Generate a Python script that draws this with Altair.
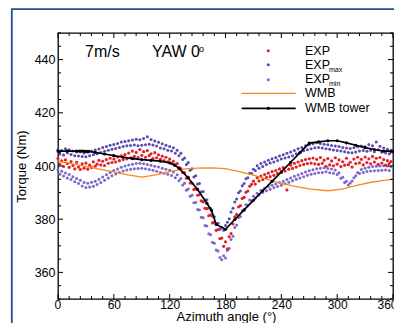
import altair as alt
import pandas as pd

FONT = "Liberation Sans"

# ---------------- data ----------------
angles = list(range(0, 360, 2))

exp = [402.8, 400.6, 401.9, 399.8, 402.3, 400.9, 399.5, 401.7, 400.2, 398.9,
       401.4, 399.6, 398.7, 400.8, 399.2, 401.1, 398.8, 400.3, 399.4, 401.6,
       399.9, 400.7, 402.1, 400.4, 401.8, 400.2, 402.4, 401.0, 402.9, 401.3,
       402.6, 401.5, 403.4, 402.0, 403.8, 402.4, 404.3, 402.7, 404.9, 403.1,
       405.6, 403.6, 405.1, 403.2, 406.2, 404.0, 405.4, 403.3, 405.8, 403.9,
       404.6, 402.8, 405.0, 403.1, 404.2, 402.5, 403.7, 402.0, 403.3, 401.6,
       402.6, 400.9, 401.8, 400.2, 400.9, 399.3, 399.0, 397.6, 397.5, 395.4,
       395.8, 393.6, 393.5, 391.2, 391.4, 389.0, 389.2, 386.9, 386.5, 384.1,
       384.0, 381.3, 381.6, 378.6, 378.9, 375.8, 376.1, 372.7, 372.9, 369.8,
       371.5, 368.9, 373.4, 374.6, 378.2, 380.9, 381.8, 384.6, 385.1, 387.8,
       388.2, 390.1, 390.6, 392.4, 393.1, 394.3, 393.2, 395.6, 394.4, 396.2,
       394.9, 396.8, 395.7, 397.3, 396.0, 397.9, 396.5, 398.3, 397.2, 398.9,
       397.6, 399.4, 398.1, 391.0, 398.8, 400.3, 399.1, 401.0, 399.6, 401.5,
       400.2, 402.0, 400.6, 402.4, 400.9, 402.7, 401.1, 403.0, 400.8, 402.5,
       400.6, 403.2, 401.0, 402.2, 399.9, 402.8, 400.4, 401.9, 400.1, 403.1,
       400.7, 402.3, 399.8, 401.6, 400.3, 402.9, 400.5, 401.4, 399.6, 402.6,
       400.9, 403.3, 401.2, 402.5, 400.4, 403.4, 401.3, 402.7, 400.8, 403.6,
       401.5, 402.9, 400.6, 403.2, 401.1, 402.4, 400.3, 402.0, 400.9, 401.7]

exp_max = [406.2, 404.5, 405.8, 404.1, 406.5, 405.0, 406.1, 404.3, 405.6, 403.9,
           405.3, 403.8, 405.4, 403.6, 404.9, 403.5, 405.2, 403.9, 405.6, 404.2,
           406.0, 404.6, 406.4, 405.1, 407.0, 405.5, 407.3, 405.9, 407.8, 406.3,
           408.1, 406.6, 408.5, 407.0, 409.0, 407.3, 409.2, 407.6, 409.5, 407.7,
           409.8, 407.9, 410.1, 407.6, 409.9, 407.8, 410.3, 408.0, 411.0, 408.2,
           410.0, 407.9, 409.4, 407.5, 408.9, 406.8, 408.4, 406.5, 407.8, 405.9,
           407.3, 405.6, 406.9, 404.8, 405.9, 403.9, 404.8, 402.4, 403.0, 400.6,
           401.3, 398.4, 399.0, 395.9, 396.3, 393.2, 393.4, 390.3, 390.4, 387.2,
           387.3, 384.2, 384.0, 381.1, 380.9, 378.3, 378.5, 376.2, 377.0, 375.8,
           377.6, 378.9, 380.2, 382.7, 384.1, 386.5, 387.6, 389.9, 390.6, 392.6,
           393.4, 395.2, 395.6, 397.3, 397.2, 398.8, 398.3, 400.1, 399.2, 400.9,
           399.8, 401.5, 400.6, 402.2, 401.1, 402.7, 401.5, 403.2, 402.1, 403.8,
           402.6, 404.2, 403.0, 404.8, 403.4, 405.3, 403.9, 405.8, 404.6, 406.5,
           405.2, 407.0, 405.7, 407.6, 406.1, 408.0, 406.5, 408.4, 406.9, 408.7,
           407.0, 408.5, 406.8, 408.2, 406.5, 408.0, 406.3, 407.7, 406.0, 407.5,
           405.8, 407.3, 405.6, 407.0, 405.4, 406.8, 405.1, 406.6, 405.0, 406.9,
           405.3, 407.2, 405.6, 407.5, 405.8, 407.3, 405.5, 408.1, 405.9, 407.6,
           405.4, 409.0, 406.1, 407.4, 405.2, 406.8, 404.9, 406.3, 404.6, 405.9]

exp_min = [398.6, 396.9, 398.0, 396.2, 397.4, 395.5, 396.8, 394.9, 396.0, 394.1,
           395.3, 393.4, 394.6, 392.5, 393.8, 391.9, 393.5, 392.1, 393.9, 392.4,
           394.3, 393.0, 395.0, 393.8, 395.9, 394.6, 396.7, 395.5, 397.6, 396.3,
           398.3, 397.0, 398.9, 397.6, 399.5, 398.1, 400.0, 398.5, 400.4, 398.8,
           400.7, 399.0, 400.9, 399.1, 401.0, 399.2, 400.8, 399.0, 400.6, 398.7,
           400.3, 398.4, 399.9, 398.0, 399.6, 397.6, 399.2, 397.3, 398.8, 396.9,
           398.4, 396.4, 397.7, 395.6, 396.7, 394.5, 395.3, 392.9, 393.5, 390.9,
           391.4, 388.6, 389.0, 386.2, 386.3, 383.6, 383.5, 380.7, 380.5, 377.6,
           377.4, 374.5, 374.2, 371.3, 371.0, 368.4, 368.0, 365.6, 364.8, 366.3,
           365.4, 368.2, 369.0, 372.4, 373.6, 376.9, 377.8, 380.5, 381.0, 383.2,
           383.4, 385.4, 385.3, 387.2, 386.8, 388.6, 388.0, 389.8, 389.1, 390.8,
           390.0, 391.6, 390.7, 392.3, 391.3, 392.8, 391.8, 393.2, 392.3, 393.8,
           392.8, 394.3, 393.3, 394.9, 393.9, 395.5, 394.5, 396.1, 395.0, 396.6,
           395.5, 397.2, 396.0, 397.7, 396.5, 398.2, 396.9, 398.6, 397.2, 399.0,
           397.5, 399.2, 397.6, 399.3, 397.8, 399.1, 397.5, 398.9, 397.3, 398.5,
           396.8, 397.5, 395.4, 395.8, 393.8, 394.3, 392.9, 393.6, 394.4, 395.6,
           396.3, 397.6, 397.2, 398.7, 397.6, 399.2, 397.9, 399.5, 398.1, 399.8,
           398.2, 399.9, 398.3, 400.0, 398.4, 400.1, 398.5, 400.0, 398.3, 399.7]

wmb_angle = [0, 20, 40, 60, 75, 90, 105, 120, 135, 150, 165, 180, 195, 210,
             225, 240, 255, 270, 290, 305, 320, 335, 350, 360]
wmb = [401.8, 400.5, 399.1, 397.8, 396.7, 395.8, 396.7, 397.9, 398.8, 399.2,
       399.3, 399.0, 397.9, 396.6, 395.0, 393.5, 392.3, 391.4, 390.7, 391.3,
       392.6, 393.8, 394.6, 395.0]

tower_angle = [0, 10, 20, 23, 25, 27, 29, 31, 33, 40, 50, 60, 70, 80, 90, 100,
               110, 120, 125, 130, 140, 150, 160, 165, 170, 180, 190, 200, 210,
               220, 230, 240, 250, 260, 270, 280, 290, 300, 310, 320, 330, 340,
               350, 360]
tower = [405.6, 405.6, 405.6, 405.6, 405.6, 405.6, 405.5, 405.5, 405.5, 405.1,
         404.5, 403.9, 403.3, 402.8, 402.4, 402.1, 401.8, 401.2, 400.4, 399.2,
         395.5, 391.2, 386.0, 383.3, 378.0, 376.2, 379.9, 383.5, 387.1, 390.7,
         394.2, 397.8, 401.4, 405.0, 408.6, 409.1, 409.5, 409.5, 408.7, 407.8,
         406.9, 406.2, 405.6, 405.6]

x_major = [0, 60, 120, 180, 240, 300, 360]
x_minor = [v for v in range(0, 361, 12) if v not in x_major]
y_major = [360, 380, 400, 420, 440]
y_minor = [v for v in range(350, 451, 5) if v not in y_major]

legend_labels = ["EXP", "EXP", "EXP", "WMB", "WMB tower"]
legend_subs = ["", "max", "min", "", ""]
speed_label = "7m/s"
yaw_label = "YAW 0"

# ---------------- styling ----------------
W, H = 335, 266
PAD_TOP, PAD_LEFT, PAD_BOTTOM = 25, 50, 24
DY = 33 - (8 + PAD_TOP)  # shift of annotation offsets relative to plot origin
RED = "#e3202a"
PMAX = "#5d49b4"
PMIN = "#7f66c9"
ORANGE = "#f7881f"
FRAME = "#21508f"

xs = alt.Scale(domain=[0, 360], nice=False, zero=False)
ys = alt.Scale(domain=[350, 450], nice=False, zero=False)

x_axis = alt.Axis(values=x_major, title="Azimuth angle (°)", labelFlush=True,
                  labelFlushOffset=4, labelOverlap=False, labelPadding=0,
                  labelFontSize=12, titleFontSize=13,
                  titleX=168, titleY=21, titleAlign="center", titleBaseline="alphabetic")
y_axis = alt.Axis(values=y_major, title="Torque (Nm)", labelFlush=False,
                  labelOverlap=False, labelPadding=3, titlePadding=6,
                  labelFontSize=12.5, titleFontSize=13)

df = pd.DataFrame({"angle": angles, "exp": exp, "exp_max": exp_max, "exp_min": exp_min})
df_wmb = pd.DataFrame({"angle": wmb_angle, "v": wmb})
df_tower = pd.DataFrame({"angle": tower_angle, "v": tower})

X = lambda f: alt.X(f, scale=xs, axis=x_axis)
Y = lambda f: alt.Y(f, scale=ys, axis=y_axis)

one = pd.DataFrame({"k": [0]})

layers = []
# outer blue frame (drawn first, behind everything)
layers.append(alt.Chart(one).mark_rect(fillOpacity=0, stroke=FRAME, strokeWidth=1.8).encode(
    x=alt.value(11.8 - 8 - PAD_LEFT), x2=alt.value(W + 40),
    y=alt.value(9.2 - 8 - PAD_TOP), y2=alt.value(H + 60)))

layers.append(alt.Chart(df).mark_circle(size=9, color=PMIN, opacity=1).encode(
    x=X("angle:Q"), y=Y("exp_min:Q")))
layers.append(alt.Chart(df).mark_circle(size=9, color=PMAX, opacity=1).encode(
    x=X("angle:Q"), y=Y("exp_max:Q")))
layers.append(alt.Chart(df).mark_circle(size=10, color=RED, opacity=1).encode(
    x=X("angle:Q"), y=Y("exp:Q")))
layers.append(alt.Chart(df_wmb).mark_line(color=ORANGE, strokeWidth=1.3).encode(
    x=X("angle:Q"), y=Y("v:Q")))
layers.append(alt.Chart(df_tower).mark_line(color="black", strokeWidth=1.7).encode(
    x=X("angle:Q"), y=Y("v:Q")))
layers.append(alt.Chart(df_tower).mark_point(color="black", filled=True, size=10, opacity=1).encode(
    x=X("angle:Q"), y=Y("v:Q")))

# inward ticks on all four sides
def xticks(vals, y0, y1):
    return alt.Chart(pd.DataFrame({"t": vals})).mark_rule(color="black", strokeWidth=1).encode(
        x=X("t:Q"), y=alt.value(y0), y2=alt.value(y1))

def yticks(vals, x0, x1):
    return alt.Chart(pd.DataFrame({"t": vals})).mark_rule(color="black", strokeWidth=1).encode(
        y=Y("t:Q"), x=alt.value(x0), x2=alt.value(x1))

layers += [xticks(x_major, H, H - 5), xticks(x_minor, H, H - 3),
           xticks(x_major, 0, 5), xticks(x_minor, 0, 3),
           yticks(y_major, 0, 5), yticks(y_minor, 0, 3),
           yticks(y_major, W, W - 5), yticks(y_minor, W, W - 3)]

def text(s, x, y, size, align="left"):
    return alt.Chart(pd.DataFrame({"s": [s]})).mark_text(
        font=FONT, fontSize=size, color="black", align=align, baseline="alphabetic").encode(
        text="s:N", x=alt.value(x), y=alt.value(y + DY))

# annotations
layers.append(text(speed_label, 27, 23.5, 16))
layers.append(text(yaw_label, 94, 23.5, 16))
layers.append(text("o", 141, 19, 9))

# legend
text_base = [22, 36, 50.3, 63.7, 79]
sub_base = [0, 39, 52.8, 0, 0]
for lab, sub, yb, ysb in zip(legend_labels, legend_subs, text_base, sub_base):
    layers.append(text(lab, 247, yb, 12.5))
    if sub:
        layers.append(text(sub, 271, ysb, 7))

for col, yy in zip([RED, PMAX, PMIN], [17.7, 31.7, 46.7]):
    layers.append(alt.Chart(one).mark_circle(size=9, color=col, opacity=1).encode(
        x=alt.value(210.3), y=alt.value(yy + DY)))

layers.append(alt.Chart(one).mark_rule(color=ORANGE, strokeWidth=1.3).encode(
    x=alt.value(183.7), x2=alt.value(237.7), y=alt.value(60.3 + DY)))
layers.append(alt.Chart(one).mark_rule(color="black", strokeWidth=1.7).encode(
    x=alt.value(183.7), x2=alt.value(237.7), y=alt.value(75.3 + DY)))
layers.append(alt.Chart(one).mark_circle(size=10, color="black", opacity=1).encode(
    x=alt.value(210.3), y=alt.value(75.3 + DY)))

chart = alt.layer(*layers).properties(
    width=W, height=H,
    autosize=alt.AutoSizeParams(type="none"),
    padding={"left": PAD_LEFT, "top": PAD_TOP, "right": 1, "bottom": PAD_BOTTOM},
    background="white",
).configure_view(
    stroke="black", strokeWidth=1.3
).configure_axis(
    ticks=False, domain=False, grid=False,
    labelFont=FONT, labelColor="black",
    titleFont=FONT, titleFontWeight="normal", titleColor="black",
)

chart.save("out.html", embed_options={"renderer": "svg", "actions": False})
